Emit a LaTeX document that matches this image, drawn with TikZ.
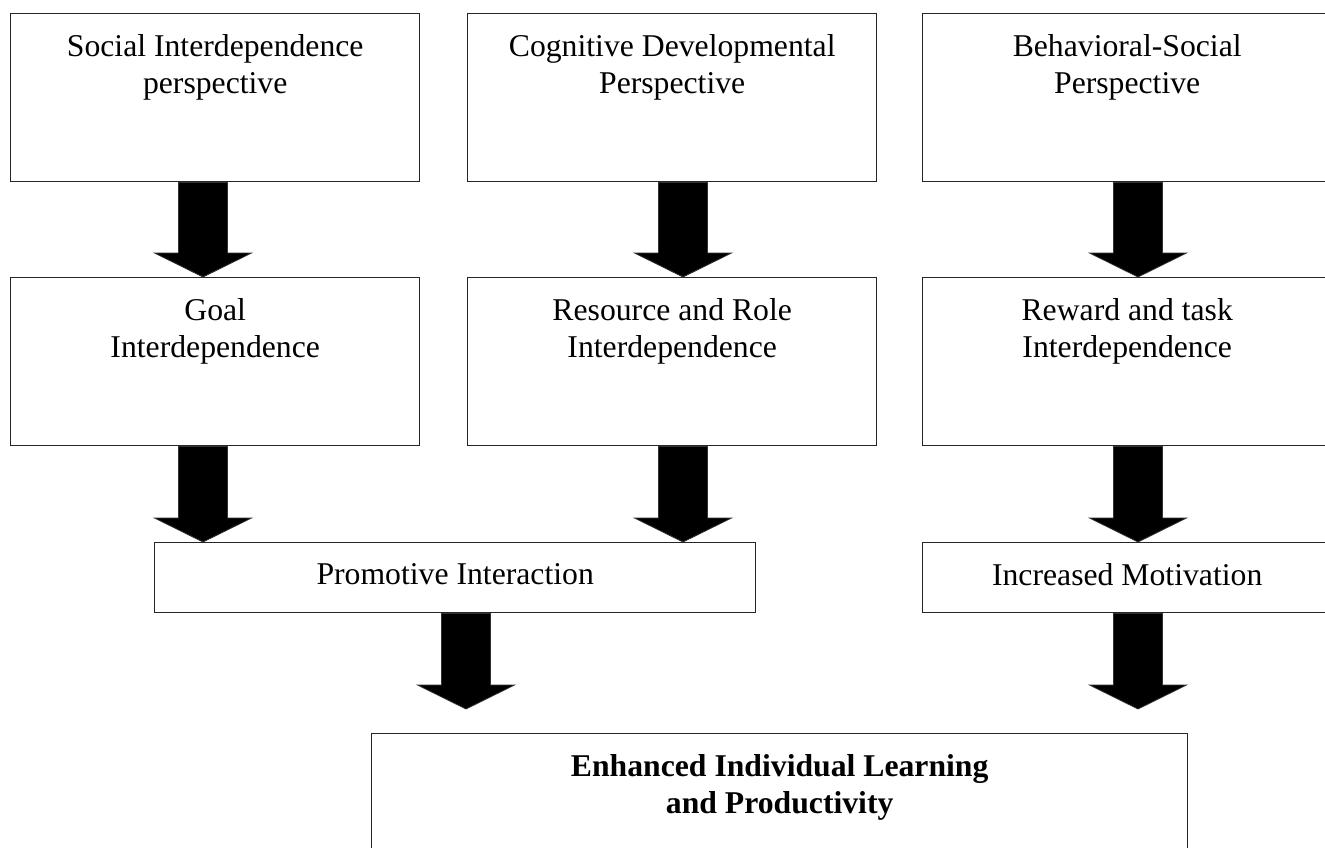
\documentclass[tikz,border=0pt]{standalone}
\usepackage{fontspec}
\setmainfont{Liberation Serif}
\usetikzlibrary{calc}

% block arrow: from node #1 down to point #2, at x = #3
\newcommand{\fatarrow}[3]{%
	\path (#3,0 |- #1.south) coordinate (top) (#3,0 |- #2) coordinate (tip);
	\filldraw[fat]	($(top)+(-\SW,0)$) -- ($(tip)+(-\SW,-\HH)$) -- ($(tip)+(-\HW,-\HH)$) -- (tip)
		-- ($(tip)+(\HW,-\HH)$) -- ($(tip)+(\SW,-\HH)$) -- ($(top)+(\SW,0)$) -- cycle;
}

\tikzset{
	box/.style={draw=black!85, line width=1.4pt, fill=white, anchor=north west, inner sep=0pt,
		minimum width=409pt, minimum height=168pt},
	txt/.style={anchor=north, align=center, inner sep=0pt, font=\fontsize{31.7}{37}\selectfont},
	fat/.style={fill=black, draw=black!80, line width=0.8pt, line join=miter},
}

\begin{document}
\begin{tikzpicture}[x=1pt, y=-1pt]
	\def\SW{24.5}
	\def\HW{48.5}
	\def\HH{24}
	\def\T{21}

	\clip (0,0) rectangle (1325,847);
	\fill[white] (0,0) rectangle (1325,847);

	% perspectives
	\node[box] (b1) at (10,13) {};
	\node[box] (b2) at (467,13) {};
	\node[box] (b3) at (922,13) {};
	\node[txt] (t1) at ($(b1.north)+(0,\T)$) {Social Interdependence\\perspective};
	\node[txt] (t2) at ($(b2.north)+(0,\T)$) {Cognitive Developmental\\Perspective};
	\node[txt] (t3) at ($(b3.north)+(0,\T)$) {Behavioral-Social\\Perspective};

	% interdependence
	\node[box] (b4) at (10,277) {};
	\node[box] (b5) at (467,277) {};
	\node[box] (b6) at (922,277) {};
	\node[txt] (t4) at ($(b4.north)+(0,\T)$) {Goal\\Interdependence};
	\node[txt] (t5) at ($(b5.north)+(0,\T)$) {Resource and Role\\Interdependence};
	\node[txt] (t6) at ($(b6.north)+(0,\T)$) {Reward and task\\Interdependence};

	\node[box, minimum width=601pt, minimum height=70pt] (b7) at (154,542) {};
	\node[box, minimum height=70pt] (b8) at (922,542) {};
	\node[txt] (t7) at ($(b7.north)+(0,\T)$) {Promotive Interaction};
	\node[txt] (t8) at ($(b8.north)+(0,\T)$) {Increased Motivation};

	\node[box, minimum width=816pt] (b9) at (371,733) {};
	\node[txt, font=\fontsize{31.7}{37}\selectfont\bfseries] (t9) at ($(b9.north)+(0,\T)$) {Enhanced Individual Learning\\and Productivity};

	\coordinate (e1) at (466,709);
	\coordinate (e2) at (1138,709);

	\fatarrow{b1}{b4.north}{203}
	\fatarrow{b2}{b5.north}{683}
	\fatarrow{b3}{b6.north}{1138}
	\fatarrow{b4}{b7.north}{203}
	\fatarrow{b5}{b7.north}{683}
	\fatarrow{b6}{b8.north}{1138}
	\fatarrow{b7}{e1}{466}
	\fatarrow{b8}{e2}{1138}
\end{tikzpicture}
\end{document}
